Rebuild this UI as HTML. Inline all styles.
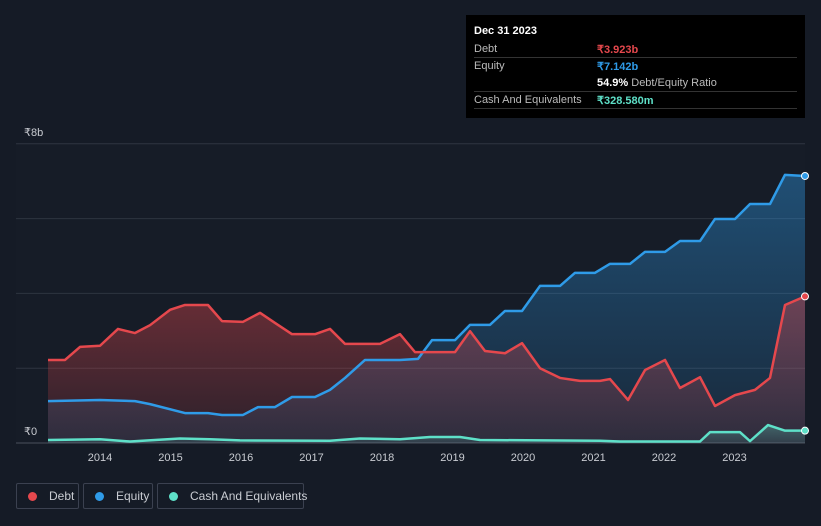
<!DOCTYPE html>
<html><head><meta charset="utf-8"><style>
body{margin:0;background:#151b26;font-family:"Liberation Sans",sans-serif;}
#wrap{position:relative;width:821px;height:526px;overflow:hidden;background:#151b26;}
.tip{position:absolute;left:466px;top:15px;width:339px;height:103px;background:#000;color:#fff;font-size:11px;}
.row{position:absolute;left:8px;right:8px;height:17px;border-bottom:1px solid #333;}
.row span{position:absolute;top:3px;white-space:nowrap;}
.leg{position:absolute;top:483px;height:26px;border:1px solid #3b4150;border-radius:2px;color:#c9ccd2;font-size:12px;line-height:24px;box-sizing:border-box;white-space:nowrap;}
.dot{display:inline-block;width:9px;height:9px;border-radius:50%;margin:0 12px 0 11px;vertical-align:-1px;}
</style></head><body>
<div id="wrap">
<svg id="svg" width="821" height="526" style="position:absolute;left:0;top:0"></svg>
<div class="tip">
 <div class="row" style="top:7px;border:none"><span style="font-weight:bold">Dec 31 2023</span></div>
 <div class="row" style="top:25px"><span style="color:#bbb">Debt</span><span style="left:123px;color:#e5484d;font-weight:bold">₹3.923b</span></div>
 <div class="row" style="top:42px;border:none"><span style="color:#bbb">Equity</span><span style="left:123px;color:#2f9be8;font-weight:bold">₹7.142b</span></div>
 <div class="row" style="top:59px"><span style="left:123px;color:#fff;font-weight:bold">54.9% <span style="position:static;color:#bbb;font-weight:normal">Debt/Equity Ratio</span></span></div>
 <div class="row" style="top:76px"><span style="color:#bbb">Cash And Equivalents</span><span style="left:123px;color:#5ee0c8;font-weight:bold">₹328.580m</span></div>
</div>
<div class="leg" style="left:16px;width:63px"><span class="dot" style="background:#e5484d"></span>Debt</div>
<div class="leg" style="left:83px;width:70px"><span class="dot" style="background:#2f9be8"></span>Equity</div>
<div class="leg" style="left:157px;width:147px"><span class="dot" style="background:#5ee0c8"></span>Cash And Equivalents</div>
</div>
<script>
const debtX=[48,65,80,100,118,135,150,170,185,208,222,243,260,275,292,315,330,345,380,400,415,455,470,485,505,522,540,560,580,600,610,628,645,665,680,700,715,735,755,770,785,805];
const debtV=[2.22,2.22,2.57,2.6,3.05,2.94,3.15,3.56,3.69,3.69,3.26,3.24,3.48,3.21,2.91,2.91,3.05,2.65,2.65,2.91,2.43,2.43,2.99,2.46,2.4,2.67,2.0,1.74,1.66,1.66,1.71,1.15,1.95,2.22,1.47,1.76,0.99,1.28,1.42,1.74,3.69,3.92];
const eqX=[48,100,135,150,185,208,222,243,258,275,292,315,330,345,365,400,418,432,455,470,490,505,522,540,560,575,595,610,630,645,665,680,700,715,735,750,770,785,805];
const eqV=[1.12,1.15,1.12,1.04,0.8,0.8,0.75,0.75,0.96,0.96,1.23,1.23,1.42,1.74,2.22,2.22,2.25,2.75,2.75,3.16,3.16,3.53,3.53,4.2,4.2,4.55,4.55,4.79,4.79,5.11,5.11,5.4,5.4,5.99,5.99,6.39,6.39,7.17,7.14];
const cashX=[48,100,130,180,210,240,330,360,400,430,460,480,600,620,700,710,740,750,768,785,805];
const cashV=[0.08,0.1,0.04,0.12,0.1,0.07,0.06,0.12,0.1,0.16,0.16,0.08,0.06,0.04,0.04,0.29,0.29,0.05,0.48,0.33,0.33];
const yTicks=[0,2,4,6,8];
const years=[2014,2015,2016,2017,2018,2019,2020,2021,2022,2023];
const ns="http://www.w3.org/2000/svg",svg=document.getElementById('svg');
const y=v=>443-v*37.4, xy=yr=>100+(yr-2014)*70.5;
function mk(t,a,p){const e=document.createElementNS(ns,t);for(const k in a)e.setAttribute(k,a[k]);(p||svg).appendChild(e);return e;}
const defs=mk('defs',{});
[['gd','#e5484d',0.4],['ge','#2f9be8',0.4],['gc','#5ee0c8',0.3]].forEach(([id,c,o])=>{const g=mk('linearGradient',{id:id,x1:0,y1:0,x2:0,y2:1},defs);mk('stop',{offset:0,'stop-color':c,'stop-opacity':o},g);mk('stop',{offset:1,'stop-color':c,'stop-opacity':0.1},g);});
mk('rect',{x:16,y:144,width:789,height:299,fill:'#161c27'});
yTicks.forEach(t=>{const l=mk('line',{x1:16,x2:805,y1:y(t),y2:y(t),stroke:t==0?'#4a505c':'#2e3440','stroke-width':1});});
let t=mk('text',{x:24,y:y(8)-8,fill:'#c9ccd2','font-size':11});t.textContent='₹8b';
t=mk('text',{x:24,y:y(0)-8,fill:'#c9ccd2','font-size':11});t.textContent='₹0';
years.forEach(yr=>{const e=mk('text',{x:xy(yr),y:461,fill:'#c9ccd2','font-size':11,'text-anchor':'middle'});e.textContent=yr;});
const S=[[eqX,eqV,'#2f9be8','ge','equity'],[debtX,debtV,'#e5484d','gd','debt'],[cashX,cashV,'#5ee0c8','gc','cash']];
const pts=s=>s[0].map((x,i)=>x+','+y(s[1][i])).join(' ');
S.forEach(s=>{const X=s[0];
 const a=mk('polygon',{points:X[0]+','+y(0)+' '+pts(s)+' '+X[X.length-1]+','+y(0),fill:'url(#'+s[3]+')'});
 });
S.forEach(s=>{
 const l=mk('polyline',{points:pts(s),fill:'none',stroke:s[2],'stroke-width':2.5,'stroke-linejoin':'round'});
 });
S.forEach(s=>{const X=s[0],V=s[1];
 const d=mk('circle',{cx:X[X.length-1],cy:y(V[V.length-1]),r:3.5,fill:s[2],stroke:'#fff','stroke-width':1});
 });
</script>
</body></html>
